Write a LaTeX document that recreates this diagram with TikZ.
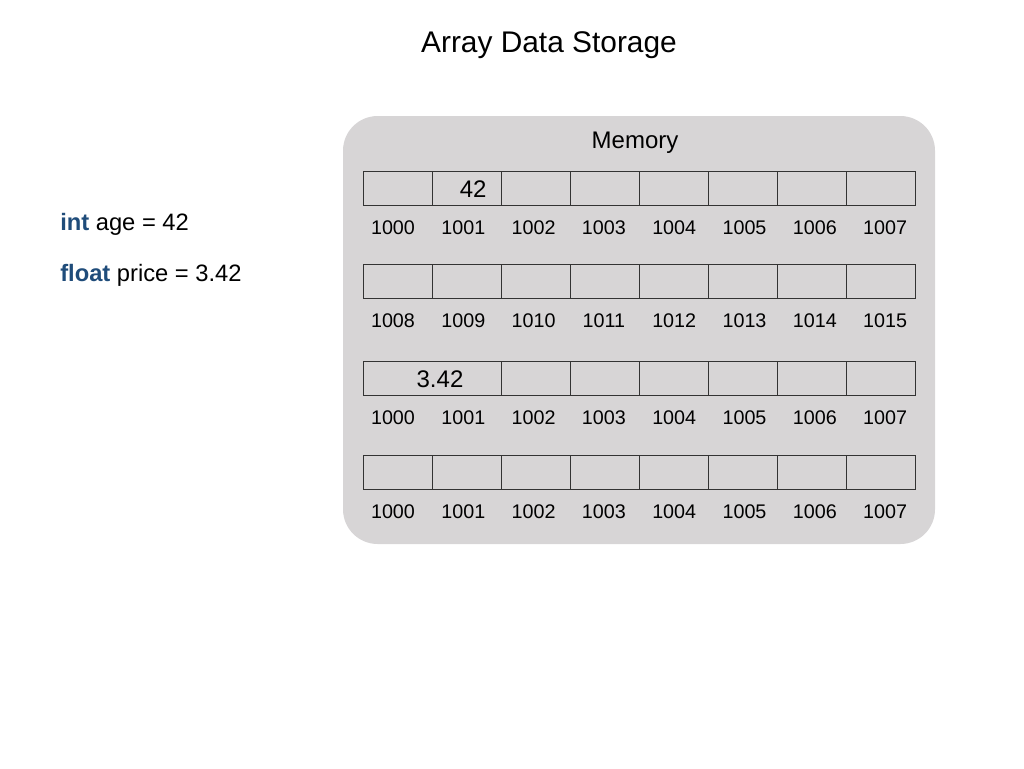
\documentclass[tikz,border=0pt]{standalone}
\usepackage{fontspec}
\setmainfont{Liberation Sans}
\definecolor{memgray}{HTML}{D7D5D6}
\definecolor{kwblue}{HTML}{1F4C7A}
\begin{document}
\begin{tikzpicture}[x=0.75pt,y=-0.75pt,
    cell/.style={draw=black!80, fill=memgray, line width=0.75pt, minimum width=51.75pt,
      minimum height=25.5pt, inner sep=0pt, font=\fontsize{18}{21}\selectfont},
    addr/.style={inner sep=0pt, font=\fontsize{14.8}{17}\selectfont},
    decl/.style={anchor=west, inner sep=0pt, font=\fontsize{17.8}{21}\selectfont}]
    \useasboundingbox (0,0) rectangle (1024,768);

    % Title
    \node (title) at (549,45) {\fontsize{22.4}{26}\selectfont Array Data Storage};

    % Declarations
    \node[decl] (age) at (60,224) {\textcolor{kwblue}{\textbf{int}} age = 42};
    \node[decl] (price) at (60,275) {\textcolor{kwblue}{\textbf{float}} price = 3.42};

    % Memory panel
    \fill[memgray, rounded corners=26pt] (343,116) rectangle (935,544);
    \node[font=\fontsize{18}{21}\selectfont] (mem) at (635,143) {Memory};

    % Rows of single cells
    \foreach \r/\y/\base in {1/188/1000, 2/281/1008, 4/472/1000} {
      \foreach \i in {0,...,7} {
        \pgfmathtruncatemacro\addr{\base+\i}
        \node[cell] (c\r-\i) at ({397.5+69*\i},\y) {};
        \node[addr] (a\r-\i) at ({393+70.3*\i},{\y+40}) {\addr};
      }
    }

    % Row with the float spanning two cells
    \node[cell, minimum width=103.5pt] (c3-01) at (432,378) {};
    \foreach \i in {2,...,7}
      \node[cell] (c3-\i) at ({397.5+69*\i},378) {};
    \foreach \i in {0,...,7} {
      \pgfmathtruncatemacro\addr{1000+\i}
      \node[addr] (a3-\i) at ({393+70.3*\i},418) {\addr};
    }

    % Stored values
    \node[font=\fontsize{18}{21}\selectfont] (v-age) at ([xshift=5pt,yshift=-1pt]c1-1.center) {42};
    \node[font=\fontsize{18}{21}\selectfont] (v-price) at ([xshift=6pt,yshift=-1pt]c3-01.center) {3.42};
\end{tikzpicture}
\end{document}
